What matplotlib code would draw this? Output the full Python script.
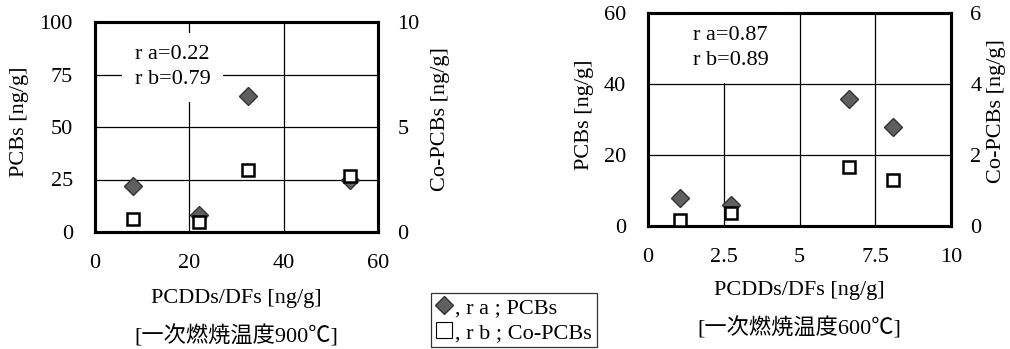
import matplotlib
matplotlib.use("Agg")
import matplotlib.pyplot as plt
from matplotlib.lines import Line2D

plt.rcParams['font.family'] = ['Liberation Serif', 'Noto Sans CJK JP']
FS = 16
plt.rcParams['font.size'] = FS

# Left chart (900°C)
x900 = [8, 22, 32.5, 54]
pcb900 = [22, 8, 65, 25]
copcb900 = [0.6, 0.5, 2.95, 2.65]
# Right chart (600°C)
x600 = [1.05, 2.75, 6.65, 8.1]
pcb600 = [8, 5.8, 35.8, 27.9]
copcb600 = [0.17, 0.37, 1.65, 1.3]

r900 = ["r a=0.22", "r b=0.79"]
r600 = ["r a=0.87", "r b=0.89"]
cap900 = "[一次燃焼温度900℃]"
cap600 = "[一次燃焼温度600℃]"
xlabel = "PCDDs/DFs [ng/g]"
ylabel_l = "PCBs [ng/g]"
ylabel_r = "Co-PCBs [ng/g]"
leg_labels = [", r a ; PCBs", ", r b ; Co-PCBs"]

W, H = 1010, 349
fig = plt.figure(figsize=(W / 100, H / 100), dpi=100)

def panel(rect, xs, pcb, co, xlim, xticks, xticklabels, ylim1, yt1, ylim2, yt2,
          rtext, textpos, cap, capy, ylx, yrx, xlpad):
    l, t, r, b = rect
    ax = fig.add_axes([l / W, 1 - b / H, (r - l) / W, (b - t) / H])
    ax2 = ax.twinx()
    ax.set_xlim(*xlim)
    ax.set_ylim(*ylim1)
    ax2.set_ylim(*ylim2)
    ax.set_xticks(xticks)
    ax.set_xticklabels(xticklabels)
    ax.set_yticks(yt1)
    ax2.set_yticks(yt2)
    ax.grid(True, color='black', linewidth=0.9)
    ax.tick_params(length=0, pad=16, labelsize=FS)
    ax.tick_params(axis='x', pad=16)
    ax2.tick_params(length=0, pad=14, labelsize=FS)
    for sp in ax.spines.values():
        sp.set_linewidth(2.2)
    for sp in ax2.spines.values():
        sp.set_linewidth(2.2)
    ax.plot(xs, pcb, linestyle='none', marker='D', markersize=9.5,
            markerfacecolor='#5f5f5f', markeredgecolor='#333333', markeredgewidth=1.0, zorder=5)
    ax2.plot(xs, co, linestyle='none', marker='s', markersize=8.5,
             markerfacecolor='white', markeredgecolor='black', markeredgewidth=1.8, zorder=5)
    ax.text(textpos[0], textpos[1], "\n".join(rtext), transform=ax.transAxes,
            ha='left', va='top', fontsize=FS, linespacing=1.45,
            bbox=dict(facecolor='white', edgecolor='none', pad=9), zorder=4)
    ax.set_xlabel(xlabel, fontsize=FS, labelpad=xlpad)
    fig.text(ylx / W, 1 - ((t + b) / 2 - 5) / H, ylabel_l, rotation=90, ha='center', va='center', fontsize=FS)
    fig.text(yrx / W, 1 - ((t + b) / 2 - 8) / H, ylabel_r, rotation=90, ha='center', va='center', fontsize=FS)
    fig.text(((l + r) / 2) / W, 1 - capy / H, cap, ha='center', va='center', fontsize=FS)
    return ax, ax2

axL, axL2 = panel((95, 22, 378, 232), x900, pcb900, copcb900, (0, 60), [0, 20, 40, 60],
                  ["0", "20", "40", "60"], (0, 100), [0, 25, 50, 75, 100], (0, 10), [0, 5, 10],
                  r900, (0.14, 0.89), cap900, 336, 20, 440, 11)
axR, axR2 = panel((648, 13, 951, 226), x600, pcb600, copcb600, (0, 10), [0, 2.5, 5, 7.5, 10],
                  ["0", "2.5", "5", "7.5", "10"], (0, 60), [0, 20, 40, 60], (0, 6), [0, 2, 4, 6],
                  r600, (0.15, 0.94), cap600, 328, 585, 997, 10)

h1 = Line2D([], [], linestyle='none', marker='D', markersize=9,
            markerfacecolor='#5f5f5f', markeredgecolor='#333333')
h2 = Line2D([], [], linestyle='none', marker='s', markersize=11,
            markerfacecolor='white', markeredgecolor='black', markeredgewidth=0.8)
leg = fig.legend([h1, h2], leg_labels, loc='upper left',
                 bbox_to_anchor=(431 / W, 1 - 293 / H), fontsize=FS,
                 frameon=True, fancybox=False, edgecolor='black', handlelength=0.8,
                 handletextpad=0.1, borderpad=0.2, labelspacing=0.2, borderaxespad=0)
leg.get_frame().set_linewidth(0.9)

fig.savefig("out.png", dpi=100)
